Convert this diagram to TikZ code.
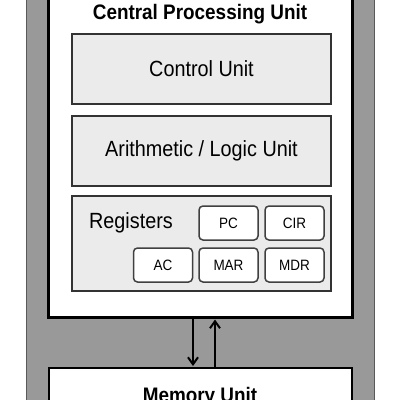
\documentclass[tikz,border=0pt]{standalone}
\usepackage{fontspec}
\setmainfont{Liberation Sans}[FakeStretch=0.9]
\usetikzlibrary{arrows.meta,positioning}

\tikzset{
  unitbox/.style={draw=black!80, line width=1.5pt, fill=black!8,
    minimum width=259pt, minimum height=70pt, font=\fontsize{22}{26}\selectfont},
  regbox/.style={draw=black!75, line width=1.5pt, fill=white, rounded corners=4pt,
    minimum width=59pt, minimum height=34pt, font=\fontsize{15}{18}\selectfont},
  bus/.style={line width=2pt, shorten >=1pt, -{Straight Barb[length=7pt,width=10pt]}}
}

\begin{document}
\begin{tikzpicture}[x=1pt,y=-1pt]
\useasboundingbox (0,0) rectangle (400,400);
\clip (0,0) rectangle (400,400);

% System frame
\draw[fill=black!40, draw=black!65, line width=1pt] (26,-10) rectangle (374,410);

% CPU
\node[draw, line width=3pt, fill=white, minimum width=304pt, minimum height=347pt] (cpu) at (200,143.5) {};
\node[anchor=base, font=\bfseries\fontsize{21}{25}\selectfont] (cputitle) at (200,19) {Central Processing Unit};

% Units inside the CPU
\node[unitbox] (cu) at (201.5,69) {Control Unit};
\node[unitbox] (alu) at (201.5,151) {Arithmetic / Logic Unit};
\node[unitbox, minimum height=95pt] (regs) at (201.5,243.5) {};
\node[anchor=base, font=\fontsize{22}{26}\selectfont] (reglabel) at (131,228) {Registers};

% Registers
\node[regbox] (pc) at (228.5,223) {PC};
\node[regbox] (cir) at (294.5,223) {CIR};
\node[regbox] (ac) at (163,265) {AC};
\node[regbox] (mar) at (228.5,265) {MAR};
\node[regbox] (mdr) at (294.5,265) {MDR};

% Memory
\node[draw, line width=2pt, fill=white, minimum width=303pt, minimum height=60pt] (mem) at (200,398) {};
\node[anchor=base, font=\bfseries\fontsize{21}{25}\selectfont] (memlabel) at (200,402) {Memory Unit};

% Buses
\draw[bus] ([xshift=-7pt]cpu.south) -- ([xshift=-7pt]mem.north);
\draw[bus] ([xshift=15pt]mem.north) -- ([xshift=15pt]cpu.south);

\end{tikzpicture}
\end{document}
